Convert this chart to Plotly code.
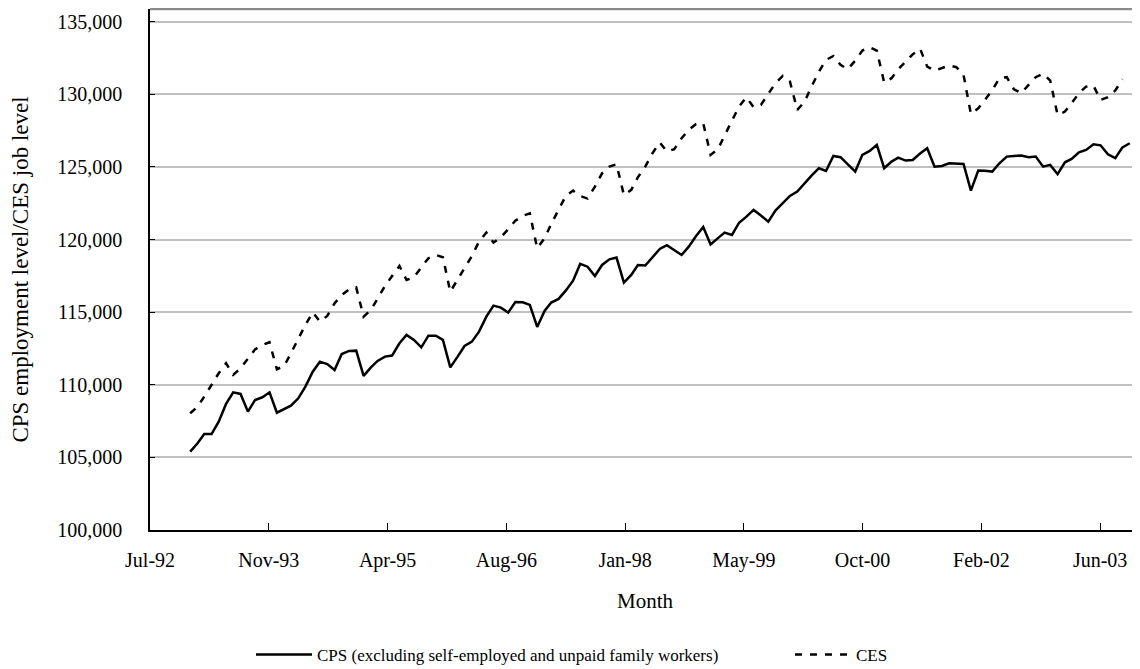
import pandas as pd
import plotly.graph_objects as go

# Monthly observations, Jan-1993 onward
months = pd.date_range("1993-01-01", periods=131, freq="MS")

cps = [105400, 105970, 106610, 106610, 107460, 108680, 109480, 109370, 108150, 108950,
       109140, 109480, 108080, 108330, 108560, 109070, 109870, 110900, 111590, 111430,
       111020, 112120, 112330, 112350, 110610, 111200, 111640, 111940, 112010, 112860,
       113430, 113090, 112580, 113380, 113380, 113090, 111200, 111940, 112670, 112970,
       113660, 114690, 115450, 115310, 114970, 115700, 115680, 115500, 113980, 115080,
       115660, 115910, 116480, 117170, 118320, 118130, 117490, 118250, 118640, 118760,
       117030, 117560, 118250, 118210, 118780, 119350, 119610, 119280, 118940, 119510,
       120250, 120870, 119660, 120100, 120480, 120320, 121160, 121580, 122040, 121650,
       121230, 121990, 122500, 123000, 123300, 123880, 124400, 124910, 124720, 125760,
       125670, 125180, 124680, 125830, 126100, 126520, 124910, 125370, 125640, 125440,
       125480, 125920, 126290, 125020, 125070, 125250, 125250, 125210, 123370, 124750,
       124730, 124680, 125250, 125710, 125760, 125780, 125670, 125710, 125020, 125140,
       124500, 125320, 125550, 126010, 126170, 126560, 126490, 125870, 125600, 126350,
       126630]

ces = [108040, 108490, 109180, 109990, 110790, 111480, 110680, 111130, 111780, 112440,
       112740, 112930, 111070, 111300, 112170, 113200, 114120, 114990, 114350, 114740,
       115610, 116180, 116570, 116710, 114690, 115150, 115960, 116800, 117490, 118180,
       117220, 117400, 118090, 118710, 118940, 118780, 116410, 117220, 118020, 118870,
       119860, 120480, 119790, 120160, 120710, 121300, 121630, 121800, 119400, 120090,
       121070, 122040, 123000, 123370, 123000, 122820, 123650, 124560, 125020, 125180,
       123070, 123420, 124290, 125020, 125940, 126680, 126060, 126220, 126980, 127550,
       127960, 128010, 125830, 126230, 127200, 128190, 129160, 129800, 129110, 129270,
       130030, 130760, 131270, 130880, 128930, 129500, 130530, 131560, 132370, 132640,
       132030, 131730, 132320, 133010, 133240, 133010, 130810, 131110, 131730, 132250,
       132750, 133140, 131910, 131630, 131800, 131980, 131870, 131340, 128650, 129040,
       129610, 130300, 131110, 131180, 130350, 130080, 130650, 131180, 131410, 130950,
       128580, 128810, 129390, 130080, 130530, 130600, 129610, 129800, 130260, 131040]

cps_name = "CPS (excluding self-employed and unpaid family workers)"
ces_name = "CES"
x_title = "Month"
y_title = "CPS employment level/CES job level"

FONT = "Liberation Serif, Times New Roman, serif"

fig = go.Figure()
fig.add_trace(go.Scatter(x=months, y=cps, name=cps_name, mode="lines",
                         line=dict(color="black", width=2.5), legend="legend"))
fig.add_trace(go.Scatter(x=months[:len(ces)], y=ces, name=ces_name, mode="lines",
                         line=dict(color="black", width=2.5, dash="7px,8px"),
                         legend="legend2"))

# plot area: 522 px tall (page y 9..530); legend centred at page y 655
leg_y = (522 - 647) / 521
leg_common = dict(orientation="h", xanchor="left", y=leg_y, yanchor="middle",
                  font=dict(size=17), bgcolor="rgba(0,0,0,0)", itemwidth=56)

# the page body adds an 8px offset; the figure is sized to the visible area
fig.update_layout(
    width=1132, height=669,
    margin=dict(l=142, r=0, t=1, b=147),
    paper_bgcolor="white", plot_bgcolor="white",
    font=dict(family=FONT, size=20, color="black"),
    showlegend=True,
    legend=dict(x=(251 - 150) / 990, **leg_common),
    legend2=dict(x=(790 - 150) / 990, **leg_common),
)

fig.update_xaxes(
    type="date", automargin=False,
    range=["1992-07-15 18:00", "2003-12-14"],
    tick0="1992-07-16", dtick=500 * 86400000, tickformat="%b-%y",
    ticks="inside", ticklen=7, tickcolor="black", tickwidth=1,
    showline=True, linecolor="black", linewidth=1.5,
    showgrid=False, zeroline=False,
    ticklabelstandoff=11,
    title=dict(text=x_title, standoff=23, font=dict(size=21)),
)
fig.update_yaxes(
    range=[100000, 135875], automargin=False,
    tick0=100000, dtick=5000, tickformat=",d",
    ticks="inside", ticklen=5, tickcolor="black", tickwidth=1,
    showline=True, linecolor="black", linewidth=1.5,
    showgrid=True, gridcolor="#c0c0c0", gridwidth=2,
    zeroline=False,
    ticklabelstandoff=22,
    title=dict(text=y_title, standoff=26, font=dict(size=23)),
)

fig.add_shape(type="line", xref="paper", yref="paper", x0=0, x1=1, y0=1, y1=1,
              line=dict(color="#8c8c8c", width=2.5))

fig.write_html("out.html")
